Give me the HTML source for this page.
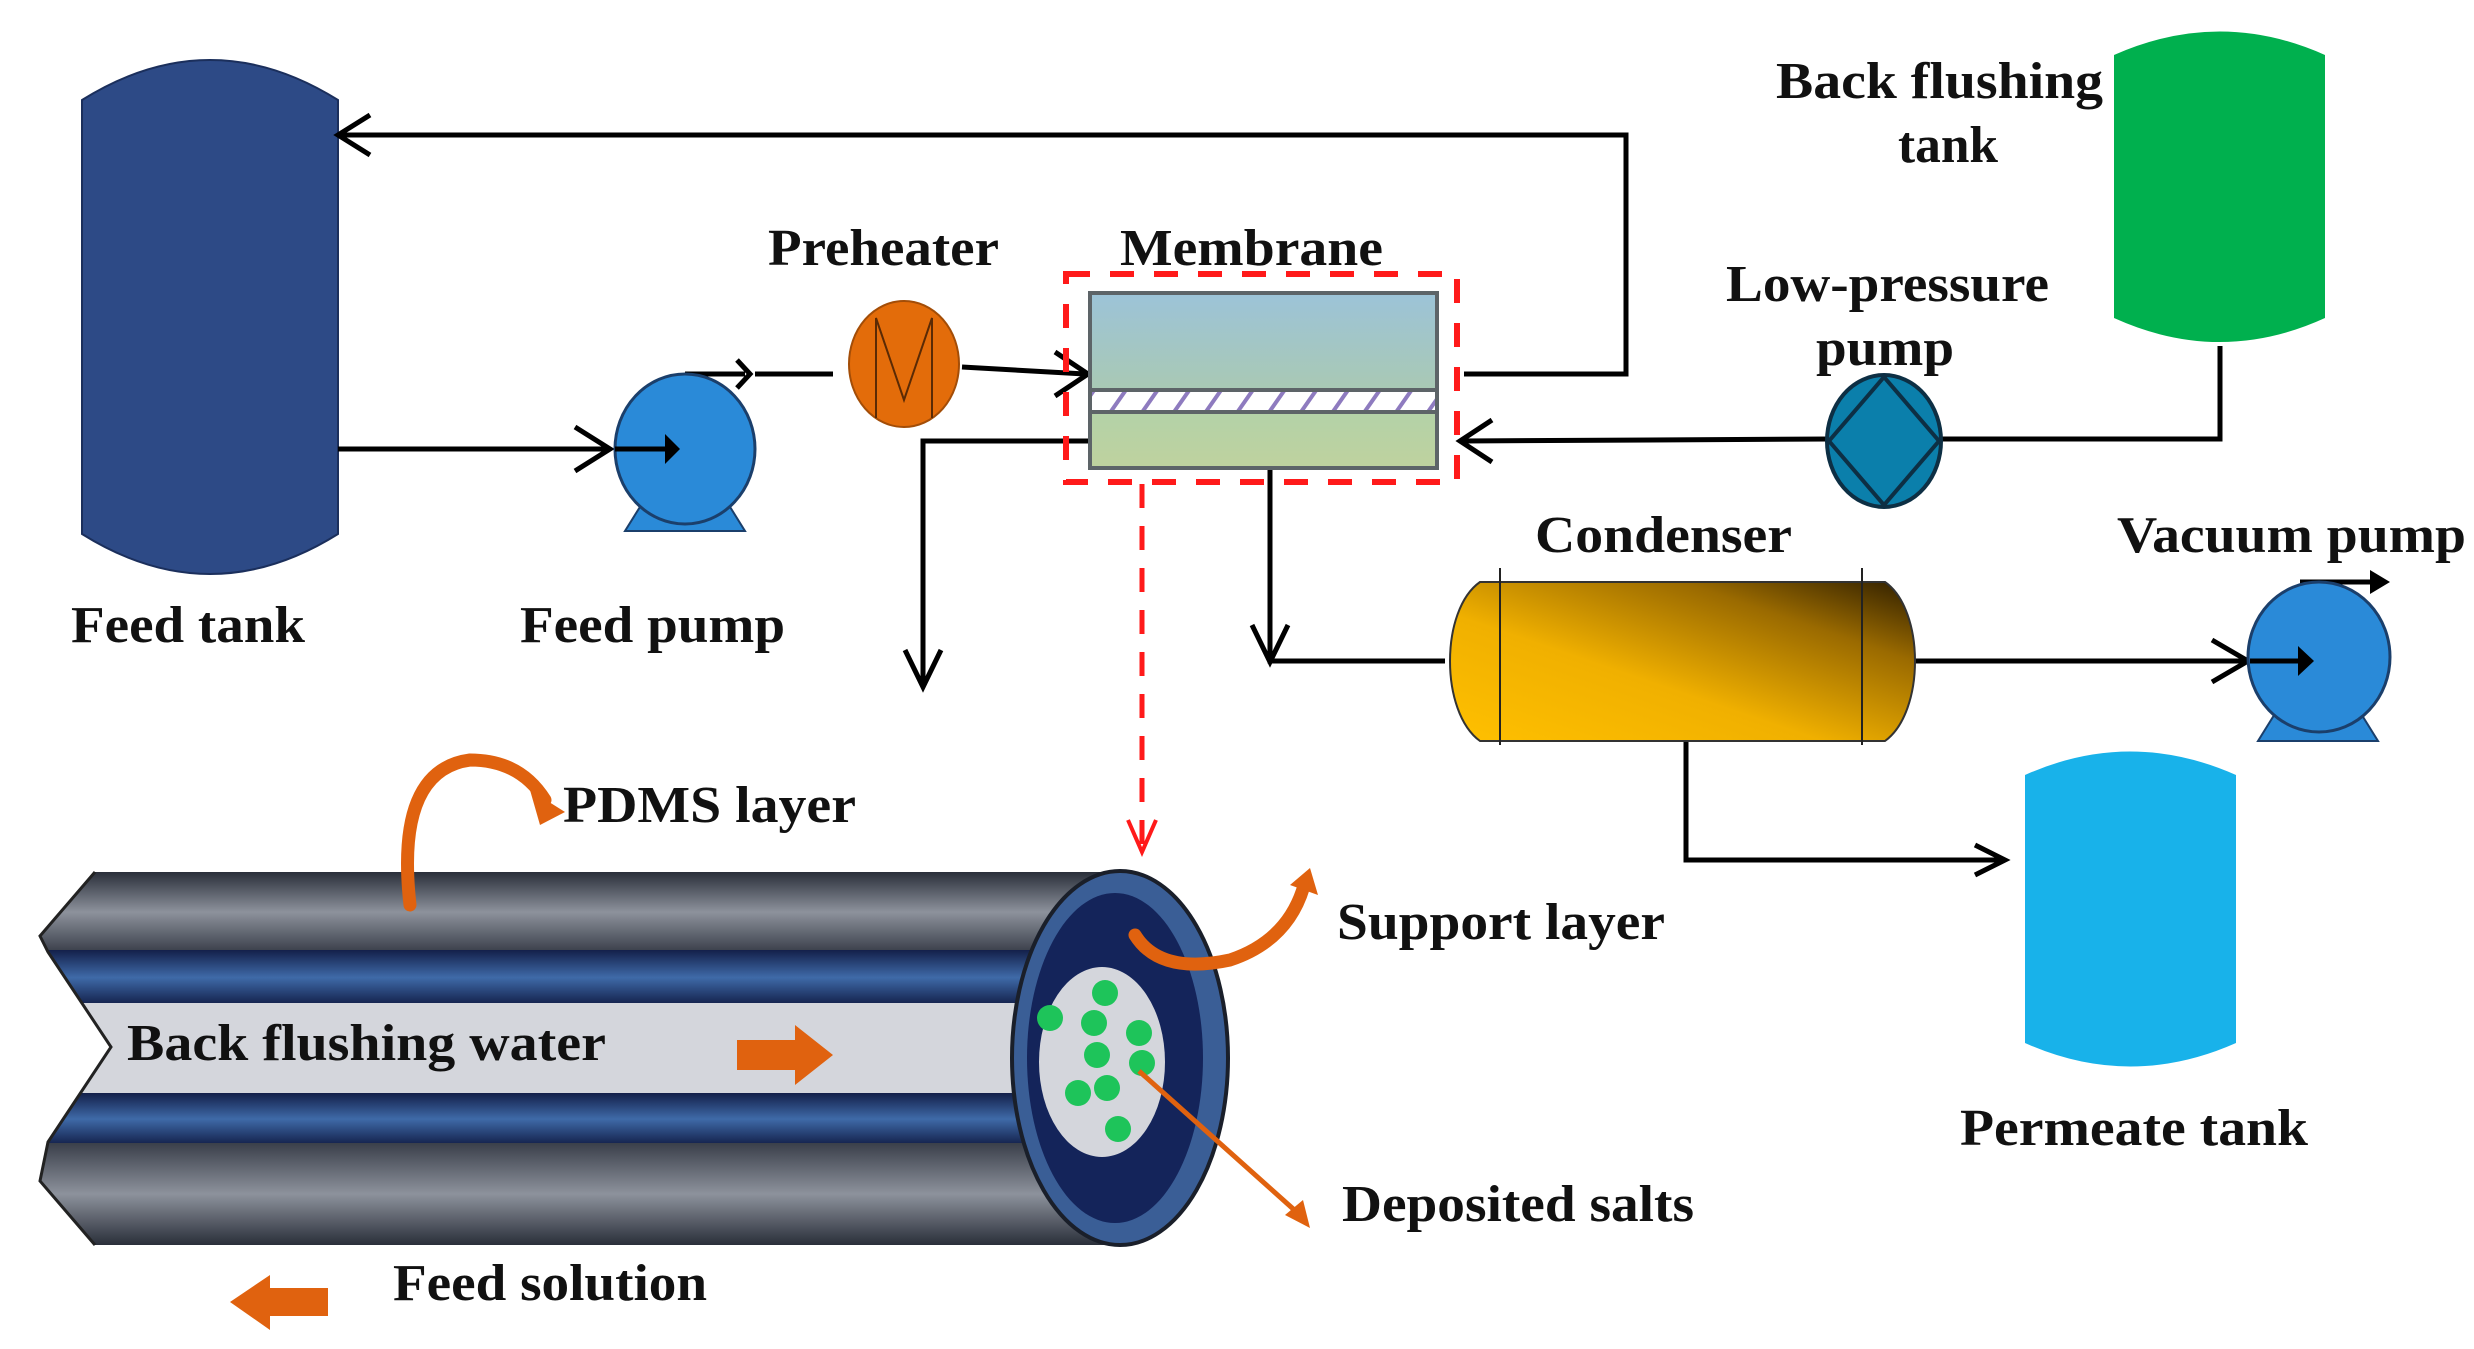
<!DOCTYPE html>
<html><head><meta charset="utf-8"><style>
html,body{margin:0;padding:0;background:#fff;}
svg{display:block;}
text{font-family:"Liberation Serif",serif;font-weight:bold;font-size:52px;fill:#111;}
</style></head><body>
<svg width="2474" height="1349" viewBox="0 0 2474 1349" xmlns="http://www.w3.org/2000/svg">
<defs>
<linearGradient id="mem" x1="0" y1="0" x2="0" y2="1"><stop offset="0" stop-color="#9cc3d8"/><stop offset="1" stop-color="#a9c9b4"/></linearGradient>
<linearGradient id="mem2" x1="0" y1="0" x2="0" y2="1"><stop offset="0" stop-color="#b3d2a8"/><stop offset="1" stop-color="#bfd29e"/></linearGradient>
<linearGradient id="cond" x1="0" y1="1" x2="1" y2="0"><stop offset="0" stop-color="#ffc000"/><stop offset="0.4" stop-color="#f0b000"/><stop offset="0.75" stop-color="#9a6a00"/><stop offset="1" stop-color="#2e1e00"/></linearGradient>
<linearGradient id="shell" x1="0" y1="0" x2="0" y2="1"><stop offset="0" stop-color="#2a2f3a"/><stop offset="0.5" stop-color="#8d929c"/><stop offset="1" stop-color="#3a3f4a"/></linearGradient>
<linearGradient id="shell2" x1="0" y1="0" x2="0" y2="1"><stop offset="0" stop-color="#3a3f4a"/><stop offset="0.5" stop-color="#8d929c"/><stop offset="1" stop-color="#2a2f3a"/></linearGradient>
<linearGradient id="blue" x1="0" y1="0" x2="0" y2="1"><stop offset="0" stop-color="#13204a"/><stop offset="0.5" stop-color="#3f6aa8"/><stop offset="1" stop-color="#13204a"/></linearGradient>
<pattern id="hatch" width="26" height="26" patternUnits="userSpaceOnUse" patternTransform="rotate(35)"><rect width="26" height="26" fill="#fff"/><rect width="4" height="26" fill="#8e7bbf"/></pattern>
<clipPath id="tubeclip"><path d="M95,872 L1120,872 L1120,1245 L95,1245 L40,1181 L48,1142 L111,1047 L48,952 L40,936 Z"/></clipPath>
</defs>

<path d="M82,100 Q210,20 338,100 L338,534 Q210,614 82,534 Z" fill="#2d4a86" stroke="#1b2f5c" stroke-width="2"/>
<path d="M2114,55 Q2220,8 2325,55 L2325,318 Q2220,366 2114,318 Z" fill="#00b04e"/>
<path d="M2025,775 Q2130,728 2236,775 L2236,1043 Q2130,1090 2025,1043 Z" fill="#18b2ea"/>

<g stroke="#000" stroke-width="5" fill="none">
<polyline points="1464,374 1626,374 1626,135 340,135"/>
<path d="M370,115 L338,135 L370,155"/>
<line x1="338" y1="449" x2="608" y2="449"/>
<path d="M575,427 L610,449 L575,471"/>
<polyline points="685,374 745,374"/>
<path d="M737,360 L750,374 L737,388"/>
<line x1="755" y1="374" x2="833" y2="374"/>
<line x1="962" y1="367" x2="1085" y2="374"/>
<path d="M1055,352 L1088,374 L1055,396"/>
<polyline points="1090,441 923,441 923,685"/>
<path d="M905,650 L923,687 L941,650"/>
<polyline points="2220,346 2220,439 1942,439"/>
<line x1="1830" y1="439" x2="1462" y2="441"/>
<path d="M1492,420 L1460,441 L1492,462"/>
<polyline points="1270,470 1270,661 1445,661"/>
<path d="M1252,625 L1270,662 L1288,625"/>
<line x1="1915" y1="661" x2="2246" y2="661"/>
<path d="M2212,640 L2248,661 L2212,682"/>
<polyline points="1686,741 1686,860 2000,860"/>
<path d="M1975,845 L2005,860 L1975,875"/>
<line x1="2300" y1="582" x2="2380" y2="582"/>
</g>
<path d="M2370,570 L2390,582 L2370,594 Z" fill="#000"/>

<path d="M625,531 L745,531 L722,494 L648,494 Z" fill="#2a8ad8" stroke="#1b3f6b" stroke-width="2"/>
<ellipse cx="685" cy="449" rx="70" ry="75" fill="#2a8ad8" stroke="#1b3f6b" stroke-width="3"/>
<line x1="615" y1="449" x2="665" y2="449" stroke="#000" stroke-width="5"/>
<path d="M665,434 L680,449 L665,464 Z" fill="#000"/>
<path d="M2258,741 L2378,741 L2355,704 L2281,704 Z" fill="#2a8ad8" stroke="#1b3f6b" stroke-width="2"/>
<ellipse cx="2319" cy="657" rx="71" ry="75" fill="#2a8ad8" stroke="#1b3f6b" stroke-width="3"/>
<line x1="2250" y1="661" x2="2300" y2="661" stroke="#000" stroke-width="5"/>
<path d="M2298,646 L2314,661 L2298,676 Z" fill="#000"/>
<ellipse cx="904" cy="364" rx="55" ry="63" fill="#e36c0a" stroke="#a34d07" stroke-width="2"/>
<polyline points="876,418 876,318 904,400 932,318 932,418" fill="none" stroke="#5a2a05" stroke-width="2"/>
<ellipse cx="1884" cy="441" rx="57" ry="66" fill="#0b7fab" stroke="#0d2f44" stroke-width="4"/>
<path d="M1884,377 L1939,441 L1884,505 L1829,441 Z" fill="#0b7fab" stroke="#0d2f44" stroke-width="4"/>

<rect x="1090" y="293" width="347" height="97" fill="url(#mem)"/>
<rect x="1090" y="390" width="347" height="22" fill="url(#hatch)"/>
<rect x="1090" y="412" width="347" height="56" fill="url(#mem2)"/>
<g stroke="#5d6468" stroke-width="4" fill="none"><rect x="1090" y="293" width="347" height="175"/><line x1="1090" y1="390" x2="1437" y2="390"/><line x1="1090" y1="412" x2="1437" y2="412"/></g>
<rect x="1066" y="274" width="391" height="208" fill="none" stroke="#ff1a1a" stroke-width="6" stroke-dasharray="24,20"/>
<line x1="1142" y1="484" x2="1142" y2="845" stroke="#ff1a1a" stroke-width="5" stroke-dasharray="24,18"/>
<path d="M1128,820 L1142,852 L1156,820" fill="none" stroke="#ff1a1a" stroke-width="4"/>

<path d="M1480,582 L1885,582 C1925,610 1925,712 1885,741 L1480,741 C1440,712 1440,610 1480,582 Z" fill="url(#cond)" stroke="#333" stroke-width="2"/>
<line x1="1500" y1="568" x2="1500" y2="745" stroke="#222" stroke-width="2"/>
<line x1="1862" y1="568" x2="1862" y2="745" stroke="#222" stroke-width="2"/>

<g clip-path="url(#tubeclip)">
<rect x="0" y="872" width="1200" height="80" fill="url(#shell)"/>
<rect x="0" y="950" width="1200" height="55" fill="url(#blue)"/>
<rect x="0" y="1003" width="1200" height="92" fill="#d4d6dc"/>
<rect x="0" y="1093" width="1200" height="52" fill="url(#blue)"/>
<rect x="0" y="1143" width="1200" height="102" fill="url(#shell2)"/>
</g>
<path d="M95,872 L40,936 L48,952 L111,1047 L48,1142 L40,1181 L95,1245" fill="none" stroke="#222" stroke-width="3"/>
<ellipse cx="1120" cy="1058" rx="108" ry="187" fill="#3a5e96" stroke="#1a1f2a" stroke-width="4"/>
<ellipse cx="1115" cy="1058" rx="88" ry="165" fill="#14245a"/>
<ellipse cx="1102" cy="1062" rx="63" ry="95" fill="#d4d6dc"/>
<g fill="#1ec45a">
<circle cx="1050" cy="1018" r="13"/><circle cx="1105" cy="993" r="13"/><circle cx="1094" cy="1023" r="13"/><circle cx="1139" cy="1033" r="13"/><circle cx="1097" cy="1055" r="13"/><circle cx="1142" cy="1063" r="13"/><circle cx="1107" cy="1088" r="13"/><circle cx="1078" cy="1093" r="13"/><circle cx="1118" cy="1129" r="13"/>
</g>
<g fill="none" stroke="#e0620f" stroke-width="13" stroke-linecap="round">
<path d="M410,905 Q395,770 470,760 Q520,760 545,800"/>
<path d="M1135,935 Q1160,975 1230,960 Q1290,940 1305,882"/>
</g>
<path d="M530,790 L565,812 L540,825 Z" fill="#e0620f"/>
<path d="M1290,885 L1310,868 L1318,895 Z" fill="#e0620f"/>
<line x1="1139" y1="1071" x2="1300" y2="1215" stroke="#e0620f" stroke-width="5"/>
<path d="M1285,1215 L1310,1228 L1303,1200 Z" fill="#e0620f"/>
<path d="M737,1040 L795,1040 L795,1025 L833,1055 L795,1085 L795,1070 L737,1070 Z" fill="#e0620f"/>
<path d="M328,1288 L270,1288 L270,1275 L230,1302 L270,1330 L270,1316 L328,1316 Z" fill="#e0620f"/>

<text x="71" y="642" textLength="234" lengthAdjust="spacingAndGlyphs">Feed tank</text>
<text x="520" y="642" textLength="265" lengthAdjust="spacingAndGlyphs">Feed pump</text>
<text x="768" y="265" textLength="231" lengthAdjust="spacingAndGlyphs">Preheater</text>
<text x="1120" y="265" textLength="263" lengthAdjust="spacingAndGlyphs">Membrane</text>
<text x="1776" y="98" textLength="327" lengthAdjust="spacingAndGlyphs">Back flushing</text>
<text x="1898" y="162" textLength="100" lengthAdjust="spacingAndGlyphs">tank</text>
<text x="1726" y="301" textLength="323" lengthAdjust="spacingAndGlyphs">Low-pressure</text>
<text x="1816" y="365" textLength="138" lengthAdjust="spacingAndGlyphs">pump</text>
<text x="1535" y="552" textLength="257" lengthAdjust="spacingAndGlyphs">Condenser</text>
<text x="2117" y="552" textLength="349" lengthAdjust="spacingAndGlyphs">Vacuum pump</text>
<text x="1960" y="1145" textLength="348" lengthAdjust="spacingAndGlyphs">Permeate tank</text>
<text x="563" y="822" textLength="293" lengthAdjust="spacingAndGlyphs">PDMS layer</text>
<text x="1337" y="939" textLength="328" lengthAdjust="spacingAndGlyphs">Support layer</text>
<text x="127" y="1060" textLength="479" lengthAdjust="spacingAndGlyphs">Back flushing water</text>
<text x="1342" y="1221" textLength="352" lengthAdjust="spacingAndGlyphs">Deposited salts</text>
<text x="393" y="1300" textLength="314" lengthAdjust="spacingAndGlyphs">Feed solution</text>
</svg>
</body></html>
